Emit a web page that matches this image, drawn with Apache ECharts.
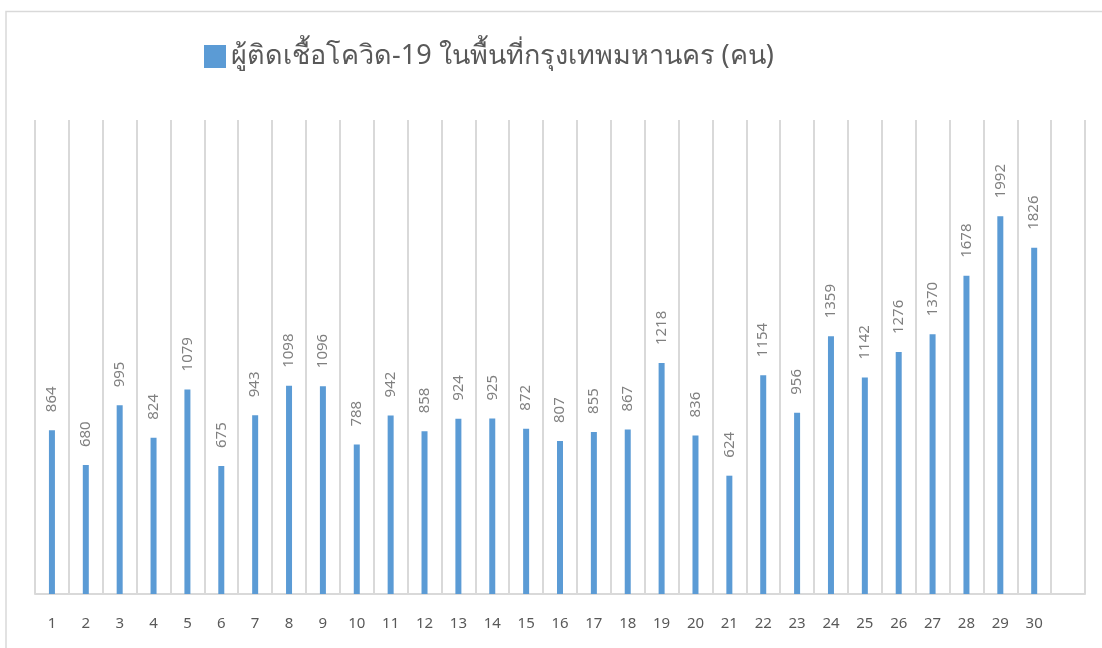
<!DOCTYPE html>
<html>
<head>
<meta charset="utf-8">
<script src="https://cdn.jsdelivr.net/npm/echarts@6/dist/echarts.min.js"></script>
<style>
  html, body { margin: 0; padding: 0; background: #ffffff; }
  #chart { width: 1102px; height: 648px; }
</style>
</head>
<body>
<div id="chart"></div>
<script>
// Days of the month (the final slot is left empty)
const days = ['1','2','3','4','5','6','7','8','9','10','11','12','13','14','15','16','17','18','19','20','21','22','23','24','25','26','27','28','29','30',''];
// Daily new COVID-19 cases in Bangkok (persons)
const cases = [864,680,995,824,1079,675,943,1098,1096,788,942,858,924,925,872,807,855,867,1218,836,624,1154,956,1359,1142,1276,1370,1678,1992,1826,null];
const seriesName = 'ผู้ติดเชื้อโควิด-19 ในพื้นที่กรุงเทพมหานคร (คน)';

const chart = echarts.init(document.getElementById('chart'));
chart.setOption({
  backgroundColor: '#ffffff',
  animation: false,
  textStyle: { fontFamily: 'Noto Sans, DejaVu Sans, sans-serif' },
  graphic: [{
    type: 'rect',
    shape: { x: 6, y: 11.5, width: 1110, height: 660 },
    style: { fill: 'none', stroke: '#d9d9d9', lineWidth: 1.5 },
    silent: true
  }],
  legend: {
    left: 199,
    top: 38,
    itemWidth: 22,
    itemHeight: 23,
    itemGap: 6,
    icon: 'rect',
    textStyle: { fontSize: 27, color: '#595959' },
    data: [seriesName]
  },
  grid: { left: 35, right: 17, top: 120, bottom: 54, containLabel: false },
  xAxis: {
    type: 'category',
    data: days,
    boundaryGap: true,
    axisLine: { lineStyle: { color: '#d9d9d9', width: 2 } },
    axisTick: { show: false },
    axisLabel: { color: '#595959', fontSize: 15, margin: 22, interval: 0 },
    splitLine: { show: true, interval: 0, lineStyle: { color: '#d9d9d9', width: 2 } }
  },
  yAxis: {
    type: 'value',
    min: 0,
    max: 2500,
    interval: 500,
    show: false,
    splitLine: { show: false }
  },
  series: [{
    name: seriesName,
    type: 'bar',
    data: cases,
    barWidth: 6,
    itemStyle: { color: '#5b9bd5' },
    label: {
      show: true,
      position: 'top',
      rotate: 90,
      align: 'left',
      verticalAlign: 'middle',
      distance: 18,
      color: '#808080',
      fontSize: 15
    }
  }]
});
</script>
</body>
</html>
